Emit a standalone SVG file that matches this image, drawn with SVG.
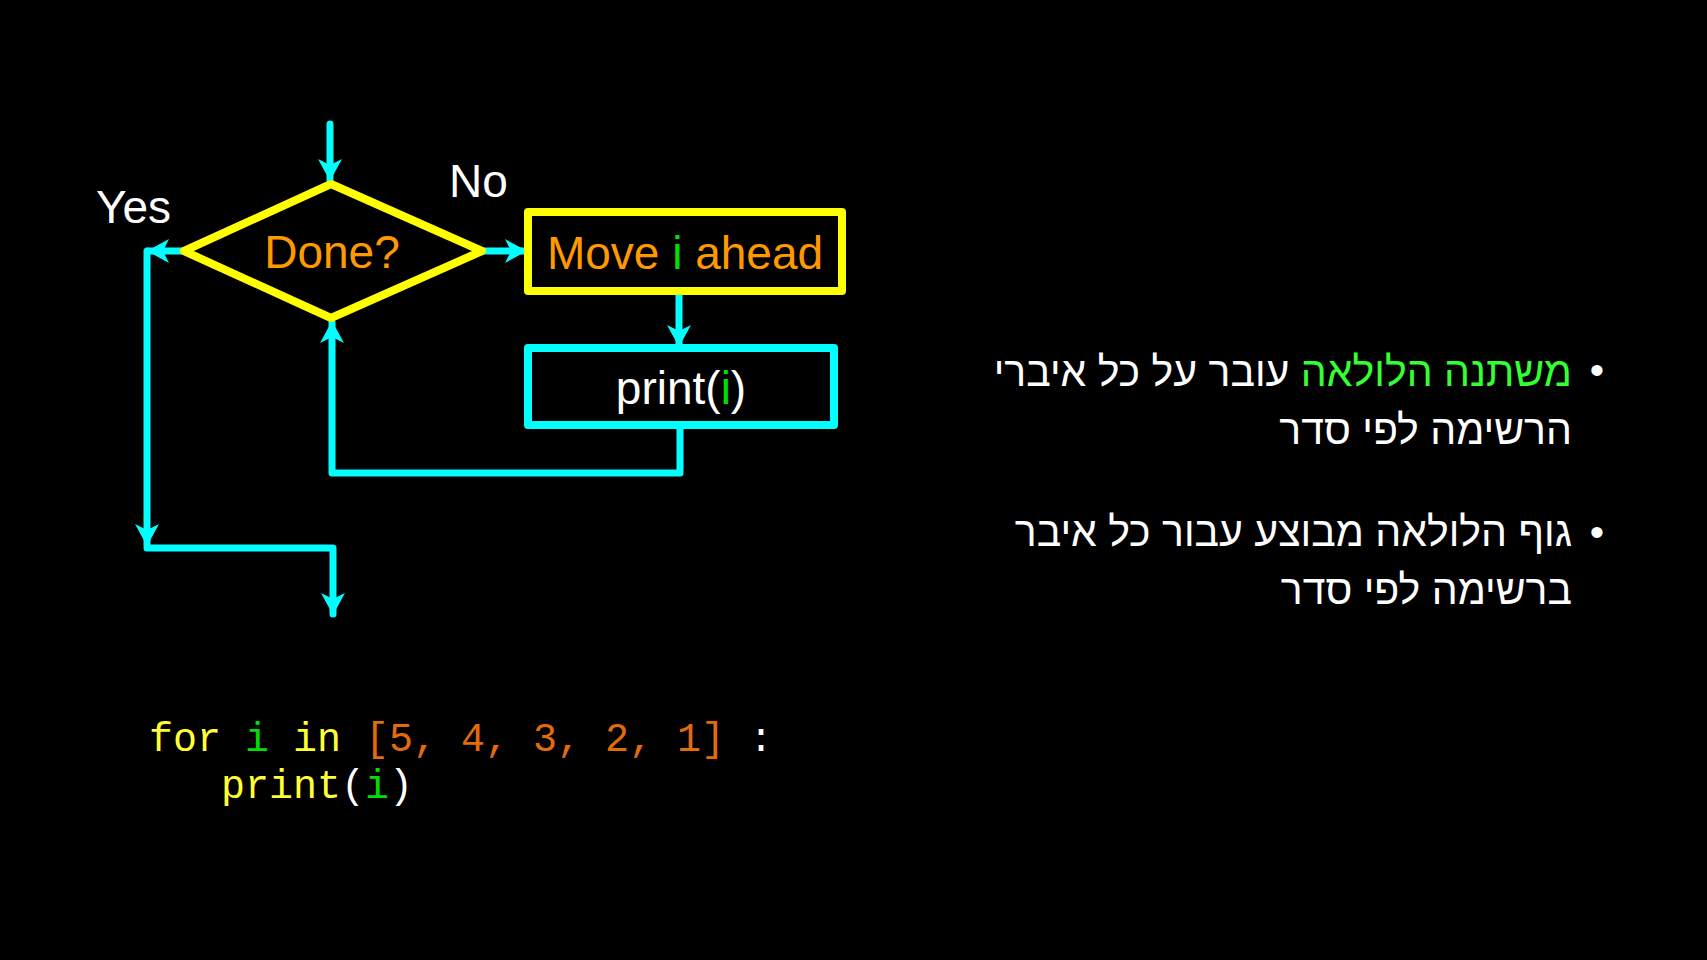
<svg xmlns="http://www.w3.org/2000/svg" width="1707" height="960" viewBox="0 0 1707 960">
<style>
.bg{fill:#000}
.conn{fill:none;stroke:#00FFFF;stroke-width:7;stroke-linecap:round;stroke-linejoin:round}
.dec{fill:none;stroke:#FFFF00;stroke-width:8;stroke-linejoin:round}
.yb{fill:none;stroke:#FFFF00;stroke-width:8;stroke-linejoin:round}
.cb{fill:none;stroke:#00FFFF;stroke-width:8;stroke-linejoin:round}
.lbl{font-family:"Liberation Sans",Arial,sans-serif;font-size:46px;fill:#FFFFFF}
.or{fill:#FF9900}
.gr{fill:#00E000}
.wh{fill:#FFFFFF}
.code{font-family:"Liberation Mono","Courier New",monospace;font-size:40px}
.cy{fill:#FFFF33}
.co{fill:#E36C0A}
.heb{font-family:"Liberation Sans","DejaVu Sans",sans-serif;font-size:41px;fill:#FFFFFF}
.hg{fill:#33FF33}
</style>
<defs>
<marker id="ah" viewBox="0 0 22 24" refX="21" refY="12" markerWidth="22" markerHeight="24" markerUnits="userSpaceOnUse" orient="auto">
<path d="M0,0 L22,12 L0,24 L6,12 z" fill="#00FFFF"/>
</marker>
</defs>
<rect class="bg" x="0" y="0" width="1707" height="960"/>

<g id="connectors">
<line class="conn" x1="330" y1="124" x2="330" y2="180" marker-end="url(#ah)"/>
<line class="conn" x1="484" y1="251" x2="526" y2="251" marker-end="url(#ah)"/>
<line class="conn" x1="186" y1="251" x2="148" y2="251" marker-end="url(#ah)"/>
<line class="conn" x1="147" y1="251" x2="147" y2="545" marker-end="url(#ah)"/>
<polyline class="conn" points="147,548 333,548 333,614" marker-end="url(#ah)"/>
<line class="conn" x1="679" y1="292" x2="679" y2="346" marker-end="url(#ah)"/>
<polyline class="conn" points="680,426 680,473 332,473 332,322" marker-end="url(#ah)"/>
</g>

<g id="done">
<polygon class="dec" points="331,184 482,251 331,318 184,251"/>
<text class="lbl or" x="332" y="268" text-anchor="middle">Done?</text>
</g>

<g id="yes-label">
<text class="lbl" x="96" y="223">Yes</text>
</g>
<g id="no-label">
<text class="lbl" x="449" y="197">No</text>
</g>

<g id="move">
<rect class="yb" x="528" y="212" width="314" height="79"/>
<text class="lbl or" x="685" y="269" text-anchor="middle">Move <tspan class="gr">i</tspan> ahead</text>
</g>

<g id="print">
<rect class="cb" x="528" y="348" width="306" height="77"/>
<text class="lbl" x="681" y="404" text-anchor="middle">print(<tspan class="gr">i</tspan>)</text>
</g>

<g id="code">
<text class="code" x="149" y="751" xml:space="preserve"><tspan class="cy">for </tspan><tspan class="gr">i</tspan><tspan class="cy"> in </tspan><tspan class="co">[5, 4, 3, 2, 1]</tspan><tspan class="wh"> :</tspan></text>
<text class="code" x="149" y="798" xml:space="preserve"><tspan class="cy">   print</tspan><tspan class="wh">(</tspan><tspan class="gr">i</tspan><tspan class="wh">)</tspan></text>
</g>

<g id="bullets">
<text class="heb" x="1597" y="384" text-anchor="middle">•</text>
<text class="heb" x="1572" y="386" text-anchor="end"><tspan class="hg">משתנה הלולאה</tspan> עובר על כל איברי</text>
<text class="heb" x="1572" y="444" text-anchor="end">הרשימה לפי סדר</text>
<text class="heb" x="1597" y="546" text-anchor="middle">•</text>
<text class="heb" x="1572" y="546" text-anchor="end">גוף הלולאה מבוצע עבור כל איבר</text>
<text class="heb" x="1572" y="604" text-anchor="end">ברשימה לפי סדר</text>
</g>
</svg>
